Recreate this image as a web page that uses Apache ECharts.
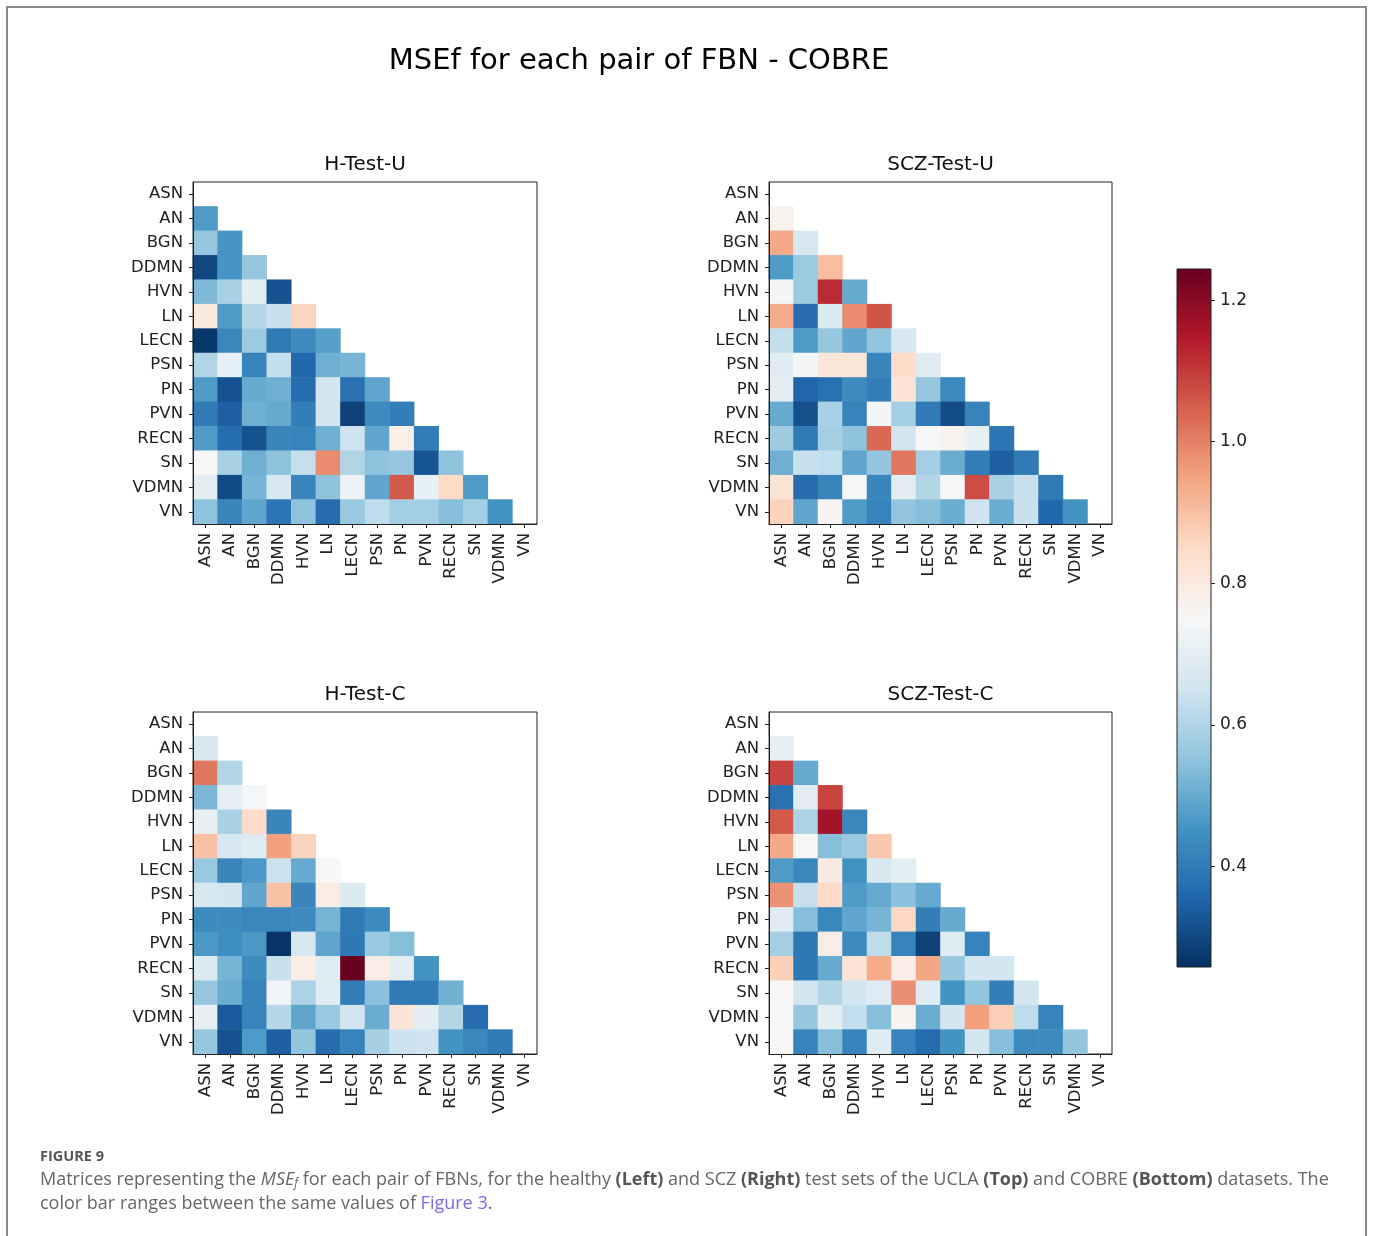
<!DOCTYPE html>
<html>
<head>
<meta charset="utf-8">
<title>MSEf for each pair of FBN - COBRE</title>
<script src="https://cdn.jsdelivr.net/npm/echarts@6/dist/echarts.min.js"></script>
<style>
  html, body { margin: 0; padding: 0; background: #ffffff; }
  #chart { width: 1373px; height: 1236px; }
</style>
</head>
<body>
<div id="chart"></div>
<script>
// Functional brain networks (row / column order of every matrix)
const networks = ['ASN', 'AN', 'BGN', 'DDMN', 'HVN', 'LN', 'LECN', 'PSN', 'PN', 'PVN', 'RECN', 'SN', 'VDMN', 'VN'];

// Lower-triangular MSEf values; row k holds the pairs (networks[k+1], networks[0..k])
const hTestU = [
  [0.47],
  [0.56, 0.46],
  [0.30, 0.46, 0.56],
  [0.53, 0.59, 0.70, 0.32],
  [0.80, 0.47, 0.61, 0.64, 0.86],
  [0.27, 0.43, 0.57, 0.40, 0.44, 0.48],
  [0.60, 0.71, 0.42, 0.63, 0.36, 0.51, 0.52],
  [0.47, 0.32, 0.50, 0.51, 0.37, 0.66, 0.38, 0.49],
  [0.40, 0.345, 0.51, 0.50, 0.41, 0.66, 0.29, 0.44, 0.41],
  [0.47, 0.375, 0.32, 0.425, 0.42, 0.51, 0.65, 0.49, 0.78, 0.41],
  [0.75, 0.59, 0.51, 0.55, 0.635, 0.985, 0.60, 0.55, 0.56, 0.325, 0.55],
  [0.70, 0.305, 0.52, 0.67, 0.425, 0.55, 0.72, 0.49, 1.055, 0.71, 0.85, 0.47],
  [0.55, 0.425, 0.49, 0.39, 0.55, 0.37, 0.565, 0.625, 0.58, 0.58, 0.54, 0.58, 0.45]
];

const sczTestU = [
  [0.77],
  [0.94, 0.67],
  [0.47, 0.57, 0.905],
  [0.74, 0.57, 1.12, 0.50],
  [0.935, 0.37, 0.68, 0.985, 1.065],
  [0.63, 0.47, 0.56, 0.49, 0.555, 0.67],
  [0.69, 0.74, 0.81, 0.81, 0.425, 0.845, 0.69],
  [0.70, 0.355, 0.38, 0.44, 0.41, 0.82, 0.56, 0.435],
  [0.50, 0.315, 0.59, 0.42, 0.74, 0.58, 0.40, 0.31, 0.42],
  [0.575, 0.40, 0.58, 0.55, 1.035, 0.655, 0.745, 0.77, 0.71, 0.39],
  [0.51, 0.64, 0.63, 0.49, 0.555, 1.015, 0.58, 0.505, 0.41, 0.345, 0.40],
  [0.82, 0.37, 0.425, 0.745, 0.425, 0.70, 0.605, 0.745, 1.075, 0.59, 0.64, 0.40],
  [0.865, 0.49, 0.76, 0.47, 0.42, 0.555, 0.54, 0.505, 0.65, 0.505, 0.64, 0.36, 0.455]
];

const hTestC = [
  [0.67],
  [1.015, 0.605],
  [0.525, 0.705, 0.745],
  [0.715, 0.59, 0.845, 0.425],
  [0.895, 0.67, 0.685, 0.955, 0.865],
  [0.565, 0.425, 0.465, 0.645, 0.50, 0.75],
  [0.67, 0.66, 0.49, 0.895, 0.425, 0.79, 0.68],
  [0.435, 0.44, 0.43, 0.43, 0.435, 0.52, 0.40, 0.435],
  [0.465, 0.445, 0.465, 0.265, 0.665, 0.49, 0.395, 0.565, 0.54],
  [0.68, 0.52, 0.435, 0.64, 0.785, 0.69, 1.24, 0.785, 0.70, 0.455],
  [0.56, 0.505, 0.42, 0.735, 0.595, 0.69, 0.41, 0.545, 0.40, 0.40, 0.515],
  [0.715, 0.335, 0.42, 0.61, 0.49, 0.565, 0.655, 0.505, 0.82, 0.70, 0.605, 0.37],
  [0.56, 0.32, 0.47, 0.345, 0.555, 0.37, 0.42, 0.585, 0.645, 0.65, 0.455, 0.43, 0.40]
];

const sczTestC = [
  [0.705],
  [1.085, 0.50],
  [0.38, 0.695, 1.085],
  [1.055, 0.595, 1.165, 0.43],
  [0.94, 0.755, 0.54, 0.565, 0.885],
  [0.47, 0.43, 0.795, 0.45, 0.67, 0.70],
  [0.975, 0.635, 0.85, 0.47, 0.50, 0.545, 0.50],
  [0.69, 0.54, 0.43, 0.49, 0.52, 0.855, 0.41, 0.50],
  [0.58, 0.395, 0.79, 0.435, 0.625, 0.42, 0.29, 0.69, 0.42],
  [0.87, 0.395, 0.50, 0.82, 0.935, 0.785, 0.945, 0.56, 0.66, 0.66],
  [0.75, 0.66, 0.605, 0.66, 0.685, 0.98, 0.685, 0.455, 0.555, 0.41, 0.655],
  [0.75, 0.56, 0.70, 0.63, 0.54, 0.765, 0.505, 0.66, 0.955, 0.87, 0.625, 0.42],
  [0.75, 0.42, 0.54, 0.42, 0.685, 0.42, 0.37, 0.455, 0.66, 0.54, 0.435, 0.435, 0.555]
];

const panelTitles = ['H-Test-U', 'SCZ-Test-U', 'H-Test-C', 'SCZ-Test-C'];

// Colour scale limits and colour-bar ticks
const scaleMin = 0.258;
const scaleMax = 1.244;
const colorbarTicks = [0.4, 0.6, 0.8, 1.0, 1.2];

// Diverging red-blue palette, low (blue) to high (red)
const rdBuR = ['#053061', '#2166ac', '#4393c3', '#92c5de', '#d1e5f0', '#f7f7f7',
               '#fddbc7', '#f4a582', '#d6604d', '#b2182b', '#67001f'];

const chart = echarts.init(document.getElementById('chart'), null, { renderer: 'canvas' });

const FONT = 'DejaVu Sans';
const INK = '#222222';

// Panel boxes (left, top, width, height)
const panels = [
  { left: 193, top: 182, width: 344, height: 342 },
  { left: 769, top: 182, width: 343, height: 342 },
  { left: 193, top: 712, width: 344, height: 342 },
  { left: 769, top: 712, width: 343, height: 342 }
];
const colorbarBox = { left: 1177, top: 269, width: 34, height: 698 };

function toCells(rows) {
  const cells = [];
  rows.forEach((row, k) => {
    row.forEach((v, j) => {
      cells.push([j, k + 1, v]);
    });
  });
  return cells;
}

const matrices = [hTestU, sczTestU, hTestC, sczTestC];

const grids = panels.map(p => ({
  left: p.left, top: p.top, width: p.width, height: p.height,
  show: true, borderColor: INK, borderWidth: 1, backgroundColor: 'transparent'
}));
grids.push({ left: colorbarBox.left, top: colorbarBox.top, width: colorbarBox.width, height: colorbarBox.height });

const xAxes = panels.map((p, i) => ({
  type: 'category', gridIndex: i, data: networks, position: 'bottom', z: 10,
  axisLine: { show: true, lineStyle: { color: INK, width: 1 } },
  axisTick: { show: true, alignWithLabel: true, length: 4, lineStyle: { color: INK } },
  axisLabel: { rotate: 90, fontSize: 16.5, color: INK, fontFamily: FONT, margin: 9, interval: 0 },
  splitLine: { show: false }
}));
xAxes.push({
  type: 'category', gridIndex: 4, data: ['c'],
  axisLine: { show: false }, axisTick: { show: false }, axisLabel: { show: false }, splitLine: { show: false }
});

const yAxes = panels.map((p, i) => ({
  type: 'category', gridIndex: i, data: networks, inverse: true, position: 'left', z: 10,
  axisLine: { show: true, lineStyle: { color: INK, width: 1 } },
  axisTick: { show: true, alignWithLabel: true, length: 4, lineStyle: { color: INK } },
  axisLabel: { fontSize: 16.5, color: INK, fontFamily: FONT, margin: 10, interval: 0 },
  splitLine: { show: false }
}));
yAxes.push({
  type: 'value', gridIndex: 4, position: 'right', min: scaleMin, max: scaleMax,
  axisLine: { show: false },
  axisTick: { show: true, length: 4, lineStyle: { color: INK }, customValues: colorbarTicks },
  axisLabel: { fontSize: 17, color: INK, fontFamily: FONT, margin: 9,
               customValues: colorbarTicks, formatter: v => v.toFixed(1) },
  splitLine: { show: false }
});

const series = matrices.map((m, i) => ({
  type: 'heatmap', xAxisIndex: i, yAxisIndex: i,
  data: toCells(m),
  itemStyle: { borderWidth: 0 },
  emphasis: { disabled: true }
}));

// Colour bar: one rectangle spanning the scale, filled with the palette gradient
const gradientStops = rdBuR.map((c, i) => ({ offset: i / (rdBuR.length - 1), color: c }));
series.push({
  type: 'custom', xAxisIndex: 4, yAxisIndex: 4,
  data: [[0, scaleMin, scaleMax]],
  encode: { x: 0, y: [1, 2] },
  silent: true,
  renderItem: function (params, api) {
    const lo = api.coord([api.value(0), api.value(1)]);
    const hi = api.coord([api.value(0), api.value(2)]);
    const w = api.size([1, 0])[0];
    return {
      type: 'rect',
      shape: { x: lo[0] - w / 2, y: hi[1], width: w, height: lo[1] - hi[1] },
      style: {
        fill: new echarts.graphic.LinearGradient(0, 1, 0, 0, gradientStops),
        stroke: INK, lineWidth: 1
      }
    };
  }
});

const titleElems = panels.map((p, i) => ({
  type: 'text', x: p.left + p.width / 2, y: p.top - 17,
  style: { text: panelTitles[i], fontSize: 20, fontFamily: FONT, fill: '#111',
           align: 'center', verticalAlign: 'middle' }
}));

const captionFont = 'Open Sans';
const option = {
  animation: false,
  backgroundColor: '#ffffff',
  grid: grids,
  xAxis: xAxes,
  yAxis: yAxes,
  visualMap: {
    type: 'continuous', show: false, seriesIndex: [0, 1, 2, 3],
    min: scaleMin, max: scaleMax, inRange: { color: rdBuR }
  },
  series: series,
  graphic: [
    {
      type: 'rect', silent: true, z: -1,
      shape: { x: 7, y: 7, width: 1359, height: 1300 },
      style: { fill: 'none', stroke: '#8a8a8a', lineWidth: 2 }
    },
    {
      type: 'text', x: 639, y: 61,
      style: { text: 'MSEf for each pair of FBN - COBRE', fontSize: 29, fontFamily: FONT,
               fill: '#000', align: 'center', verticalAlign: 'middle' }
    },
    ...titleElems,
    {
      type: 'text', x: 40, y: 1157,
      style: { text: 'FIGURE 9', fontSize: 14.5, fontWeight: 'bold', fontFamily: captionFont,
               fill: '#555', verticalAlign: 'middle' }
    },
    {
      type: 'text', x: 40, y: 1180,
      style: {
        text: 'Matrices representing the {i|MSE}{sub|f} for each pair of FBNs, for the healthy {b|(Left)} and SCZ {b|(Right)} test sets of the UCLA {b|(Top)} and COBRE {b|(Bottom)} datasets. The',
        fontSize: 18, fontFamily: captionFont, fill: '#666', verticalAlign: 'middle',
        rich: {
          i: { fontSize: 18, fontStyle: 'italic', fontFamily: captionFont, fill: '#666' },
          sub: { fontSize: 12, fontStyle: 'italic', fontFamily: captionFont, fill: '#666', padding: [8, 0, 0, 0] },
          b: { fontSize: 18, fontWeight: 'bold', fontFamily: captionFont, fill: '#555' }
        }
      }
    },
    {
      type: 'text', x: 40, y: 1204,
      style: {
        text: 'color bar ranges between the same values of {link|Figure 3}.',
        fontSize: 18, fontFamily: captionFont, fill: '#666', verticalAlign: 'middle',
        rich: {
          link: { fontSize: 18, fontFamily: captionFont, fill: '#7b68ee' }
        }
      }
    }
  ]
};

chart.setOption(option);
</script>
</body>
</html>
